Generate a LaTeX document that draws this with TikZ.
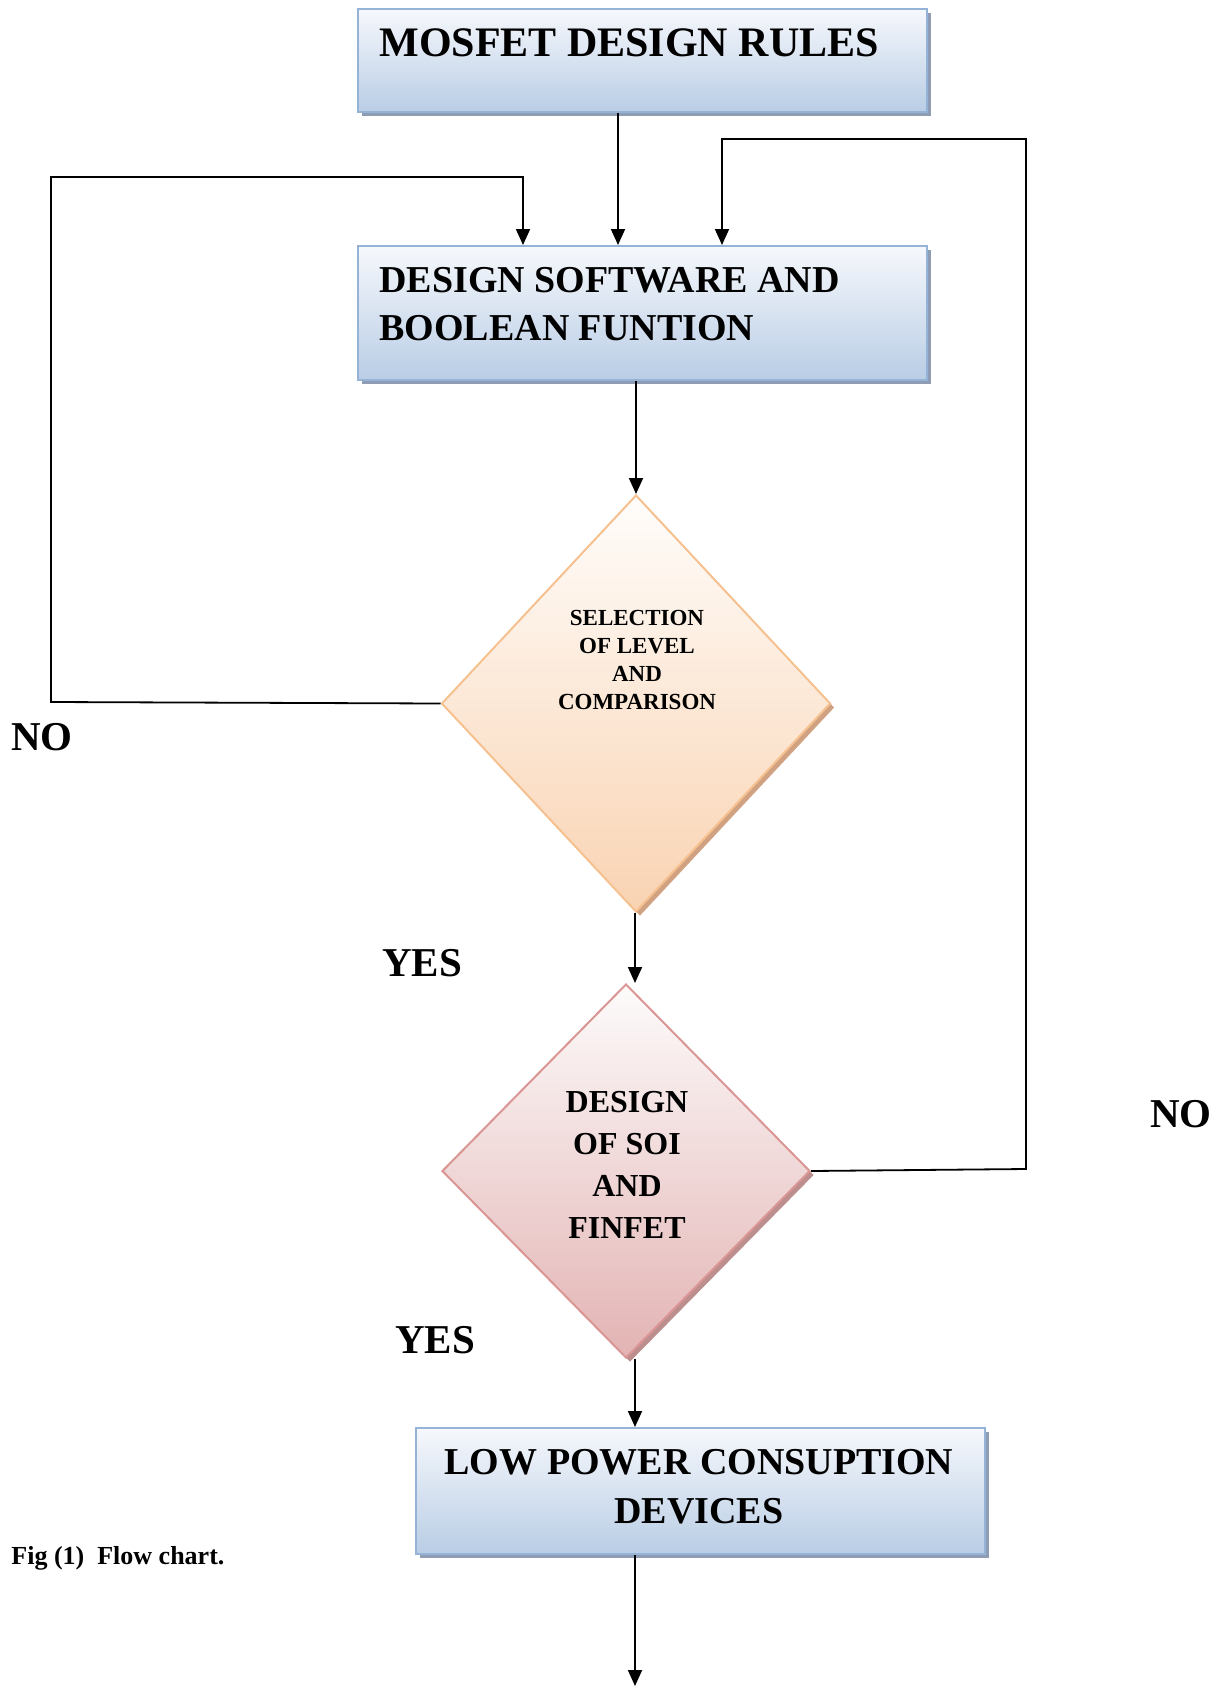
\documentclass[tikz,border=0pt]{standalone}
\usepackage{fontspec}
\setmainfont{Liberation Serif}
\usetikzlibrary{shapes.geometric,shadows,arrows.meta}
\definecolor{boxtop}{HTML}{F6F8FC}
\definecolor{boxbot}{HTML}{B9CDE5}
\definecolor{boxline}{HTML}{95B3D7}
\definecolor{boxshadow}{HTML}{8E9CB4}
\definecolor{dAtop}{HTML}{FFFDFB}
\definecolor{dAbot}{HTML}{F9D3B2}
\definecolor{dAline}{HTML}{F6C08F}
\definecolor{dAshadow}{HTML}{D0A282}
\definecolor{dBtop}{HTML}{FDFBFB}
\definecolor{dBbot}{HTML}{E3B3B3}
\definecolor{dBline}{HTML}{D99694}
\definecolor{dBshadow}{HTML}{BC8E8E}
\tikzset{
  bluebox/.style={draw=boxline, line width=1pt, top color=boxtop, bottom color=boxbot,
    minimum width=284.5pt, inner sep=0pt,
    drop shadow={shadow xshift=2pt, shadow yshift=-2pt, fill=boxshadow, opacity=1}},
  dshapeA/.style={diamond, draw=dAline, line width=1pt, top color=dAtop, bottom color=dAbot,
    minimum width=194.5pt, minimum height=208.5pt, inner sep=0pt,
    drop shadow={shadow xshift=2pt, shadow yshift=-2pt, fill=dAshadow, opacity=1}},
  dshapeB/.style={diamond, draw=dBline, line width=1pt, top color=dBtop, bottom color=dBbot,
    minimum width=184pt, minimum height=187pt, inner sep=0pt,
    drop shadow={shadow xshift=2pt, shadow yshift=-2pt, fill=dBshadow, opacity=1}},
  conn/.style={draw=black, line width=0.9pt},
  arr/.style={conn, -{Triangle[width=7pt,length=8pt]}},
  bigtxt/.style={font=\fontsize{20.5}{24}\selectfont\bfseries, inner sep=0pt},
}
\begin{document}
\begin{tikzpicture}[x=0.5pt,y=-0.5pt]
\useasboundingbox (0,0) rectangle (1223,1686);
% boxes
\node[bluebox, minimum height=51.5pt] (b1) at (642.5,60.5) {};
\node[font=\fontsize{21}{25}\selectfont\bfseries, anchor=west, inner sep=0pt] (t1) at (379,43) {MOSFET DESIGN RULES};
\node[bluebox, minimum height=67pt] (b2) at (642.5,313) {};
\node[font=\fontsize{19}{24}\selectfont\bfseries, anchor=west, align=left, inner sep=0pt] (t2) at (379,304) {DESIGN SOFTWARE AND\\BOOLEAN FUNTION};
\node[bluebox, minimum height=63pt] (b3) at (700.5,1491) {};
\node[font=\fontsize{19}{24.5}\selectfont\bfseries, align=center, inner sep=0pt] (t3) at (699,1486.5) {LOW POWER CONSUPTION\\DEVICES};
% diamonds
\node[dshapeA] (d1) at (636,703.5) {};
\node[font=\fontsize{11.5}{14}\selectfont\bfseries, align=center, inner sep=0pt] (t4) at (637,660) {SELECTION\\OF LEVEL\\AND\\COMPARISON};
\node[dshapeB] (d2) at (626,1171) {};
\node[font=\fontsize{16}{21}\selectfont\bfseries, align=center, inner sep=0pt] (t5) at (627,1165) {DESIGN\\OF SOI\\AND\\FINFET};
% labels
\node[bigtxt] (no1) at (42,737) {NO};
\node[bigtxt] (no2) at (1181,1114) {NO};
\node[bigtxt] (yes1) at (422,963) {YES};
\node[bigtxt] (yes2) at (435,1340) {YES};
\node[font=\fontsize{13}{15}\selectfont\bfseries, anchor=west, inner sep=0pt] (cap) at (11,1558) {Fig (1)\ \ Flow chart.};
% connectors
\coordinate (L1) at (51,702);
\coordinate (L2) at (51,177);
\coordinate (L3) at (523,177);
\coordinate (R1) at (1026,1169);
\coordinate (R2) at (1026,139);
\coordinate (R3) at (722,139);
\coordinate (mid) at (635,0);
\coordinate (endpt) at (635,1686);
\draw[arr] (b1.south -| 618,0) -- (b2.north -| 618,0);
\draw[arr] (d1.west) -- (L1) -- (L2) -- (L3) -- (L3 |- b2.north);
\draw[arr] (d2.east) -- (R1) -- (R2) -- (R3) -- (R3 |- b2.north);
\draw[arr] (b2.south -| d1.north) -- (d1.north);
\draw[arr] (d1.south -| mid) -- (d2.north -| mid);
\draw[arr] (d2.south -| mid) -- (b3.north -| mid);
\draw[arr] (b3.south -| mid) -- (endpt);
\end{tikzpicture}
\end{document}
